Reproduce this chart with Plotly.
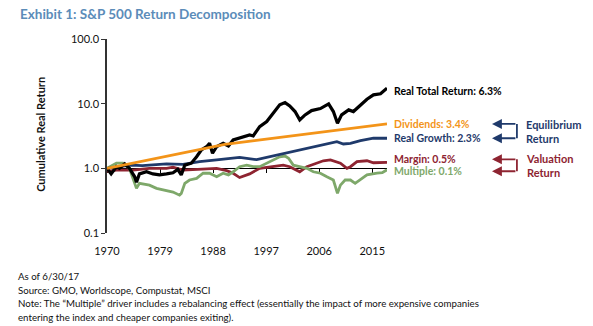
import math
import plotly.graph_objects as go

# ---- series (cumulative real return, 1970 = 1.0) ----
years_total = [1970.0, 1970.7, 1971.6, 1972.1, 1973.0, 1973.8, 1974.7, 1975.0, 1975.5, 1976.7,
               1977.8, 1978.9, 1980.1, 1981.2, 1982.0, 1982.6, 1983.2, 1984.3, 1985.2, 1986.0,
               1986.9, 1987.4, 1987.9, 1988.6, 1989.7, 1990.6, 1991.4, 1993.1, 1994.2, 1994.8,
               1995.9, 1997.1, 1998.2, 1999.3, 2000.2, 2001.0, 2001.9, 2002.7, 2003.6, 2004.7,
               2006.2, 2007.6, 2008.4, 2009.1, 2009.8, 2011.0, 2011.8, 2013.0, 2014.1, 2015.2,
               2016.4, 2017.5]
total_return = [1.00, 0.82, 1.06, 1.00, 1.17, 1.00, 0.74, 0.61, 0.82, 0.885,
                0.82, 0.79, 0.82, 0.855, 0.965, 0.79, 1.12, 1.20, 1.51, 1.92,
                2.16, 2.44, 1.71, 2.16, 2.44, 2.22, 2.75, 3.09, 3.28, 3.17,
                4.42, 5.28, 7.13, 9.58, 10.4, 9.25, 7.55, 5.61, 6.70, 7.82,
                8.40, 9.93, 7.55, 4.99, 6.70, 8.01, 7.55, 9.58, 11.7, 13.7,
                14.2, 17.4]

years_div = [1970.0, 1972.5, 1975.0, 1980.0, 1985.0, 1990.0, 1995.0, 2000.0, 2005.0, 2010.0, 2015.0, 2017.5]
dividends = [1.00, 1.11, 1.24, 1.54, 1.92, 2.35, 2.69, 3.06, 3.49, 3.99, 4.55, 4.86]

years_growth = [1970.0, 1972.0, 1974.0, 1976.0, 1978.0, 1980.1, 1982.9, 1985.7, 1988.6, 1991.4,
                1992.5, 1995.4, 1998.2, 2001.0, 2003.9, 2006.7, 2009.0, 2010.1, 2011.3, 2013.0,
                2015.2, 2017.5]
real_growth = [1.00, 1.06, 1.12, 1.10, 1.14, 1.17, 1.15, 1.27, 1.35, 1.45,
               1.48, 1.36, 1.55, 1.81, 2.04, 2.30, 2.58, 2.38, 2.44, 2.68,
               2.92, 2.92]

years_margin = [1970.0, 1971.6, 1974.4, 1977.2, 1980.1, 1981.2, 1982.9, 1985.7, 1988.6, 1990.3,
                1991.4, 1992.5, 1993.3, 1994.2, 1995.9, 1998.2, 1999.9, 2001.0, 2002.2, 2002.7,
                2003.9, 2005.6, 2006.7, 2007.9, 2009.6, 2010.7, 2011.3, 2012.4, 2014.1, 2015.2,
                2017.5]
margin = [0.90, 0.94, 0.94, 1.00, 1.00, 1.04, 0.94, 0.965, 1.00, 0.92,
          0.84, 0.72, 0.76, 0.82, 1.00, 1.06, 1.12, 1.06, 0.94, 0.885,
          1.06, 1.20, 1.31, 1.35, 1.20, 1.00, 1.06, 1.27, 1.31, 1.22,
          1.24]

years_multiple = [1970.0, 1971.6, 1972.7, 1973.8, 1974.7, 1975.0, 1975.5, 1977.2, 1978.4, 1980.1,
                  1981.2, 1982.3, 1982.6, 1983.2, 1984.0, 1985.2, 1986.3, 1987.4, 1988.6, 1989.7,
                  1990.6, 1991.4, 1992.5, 1993.7, 1994.8, 1995.9, 1997.1, 1998.2, 1999.3, 2000.2,
                  2000.8, 2001.6, 2002.7, 2003.9, 2005.0, 2006.2, 2007.3, 2008.4, 2009.1, 2009.6,
                  2010.4, 2011.3, 2012.1, 2013.3, 2014.1, 2015.8, 2016.7, 2017.5]
multiple = [1.00, 1.20, 1.20, 1.00, 0.585, 0.49, 0.585, 0.55, 0.49, 0.46,
            0.43, 0.385, 0.41, 0.585, 0.66, 0.70, 0.84, 0.84, 0.74, 0.84,
            0.79, 0.885, 1.06, 1.12, 1.06, 1.06, 1.20, 1.35, 1.51, 1.55,
            1.43, 1.12, 1.06, 1.00, 0.885, 0.84, 0.74, 0.66, 0.41, 0.55,
            0.66, 0.66, 0.585, 0.70, 0.79, 0.84, 0.855, 0.95]

year_ticks = [1970, 1979, 1988, 1997, 2006, 2015]
value_ticks = [0.1, 1, 10, 100]
value_tick_text = ["0.1", "1.0", "10.0", "100.0"]

footnote_lines = [
    "As of 6/30/17",
    "Source: GMO, Worldscope, Compustat, MSCI",
    "Note: The \u201cMultiple\u201d driver includes a rebalancing effect (essentially the impact of more expensive companies",
    "entering the index and cheaper companies exiting).",
]

BLACK = "#000000"
ORANGE = "#F39419"
NAVY = "#1F3A6B"
RED = "#8E2431"
GREEN = "#7EA86A"
TITLE_BLUE = "#5B8CB9"
FONT = "Lato, 'Open Sans', sans-serif"

fig = go.Figure()

# the dividends line sits on the overlaid axis so that the 1.0 crossing axis is drawn
series = [
    (years_margin, margin, RED, 2.8, "x"),
    (years_multiple, multiple, GREEN, 2.8, "x"),
    (years_growth, real_growth, NAVY, 2.8, "x"),
    (years_div, dividends, ORANGE, 2.8, "x2"),
    (years_total, total_return, BLACK, 3.2, "x"),
]
for xs, ys, color, width, xa in series:
    fig.add_trace(go.Scatter(
        x=xs, y=ys, mode="lines", xaxis=xa, yaxis="y",
        line=dict(color=color, width=width),
        hoverinfo="skip", showlegend=False,
    ))

y_lo, y_hi = -1, 2
x_range = [1970, 2017.5]
plot_w = 593 - 107 - 206
plot_h = 326 - 39 - 93


def frac(v):
    """Position of a value on the log y axis as a fraction of the plot height."""
    return (math.log10(v) - y_lo) / (y_hi - y_lo)


fig.update_layout(
    width=593, height=326,
    margin=dict(l=107, r=206, t=39, b=93),
    paper_bgcolor="white", plot_bgcolor="white",
    font=dict(family=FONT, size=11, color="#111111"),
    showlegend=False,
    xaxis=dict(
        range=x_range, tickvals=year_ticks,
        showline=False, showgrid=False, zeroline=False,
        ticks="outside", ticklen=8, tickcolor="rgba(0,0,0,0)",
        tickfont=dict(size=11, color="#111111"),
    ),
    # axis line crossing at 1.0
    xaxis2=dict(
        overlaying="x", anchor="free", position=frac(1.0),
        range=x_range, tickvals=year_ticks, showticklabels=False,
        showline=True, linecolor="#000000", linewidth=1,
        ticks="outside", ticklen=4, tickcolor="#000000",
        showgrid=False, zeroline=False, layer="below traces",
    ),
    yaxis=dict(
        type="log", range=[y_lo, y_hi],
        tickvals=value_ticks, ticktext=value_tick_text,
        showline=True, linecolor="#333333", linewidth=1.5,
        ticks="outside", ticklen=4, tickcolor="#333333",
        showgrid=False, zeroline=False,
        tickfont=dict(size=11, color="#111111"),
    ),
)

annotations = []

# title
annotations.append(dict(
    text="<b>Exhibit 1: S&P 500 Return Decomposition</b>",
    xref="paper", yref="paper", x=-0.318, y=1.13, xanchor="left", yanchor="middle",
    showarrow=False, font=dict(size=13.5, color=TITLE_BLUE, family=FONT),
))

# y axis title
annotations.append(dict(
    text="<b>Cumulative Real Return</b>",
    xref="paper", yref="paper", x=-0.24, y=0.51, xanchor="center", yanchor="middle",
    textangle=-90, showarrow=False, font=dict(size=11, color="#111111", family=FONT),
))

# end labels (pixel nudges keep the two close labels apart)
end_labels = [
    ("Real Total Return: 6.3%", total_return[-1], BLACK, -3),
    ("Dividends: 3.4%", dividends[-1], ORANGE, 0),
    ("Real Growth: 2.3%", real_growth[-1], NAVY, 0),
    ("Margin: 0.5%", margin[-1], RED, 3),
    ("Multiple: 0.1%", multiple[-1], GREEN, -1.5),
]
label_x = 1.018
for text, v, color, dy in end_labels:
    annotations.append(dict(
        text=f"<b>{text}</b>", xref="paper", yref="paper",
        x=label_x, y=frac(v), yshift=dy, xanchor="left", yanchor="middle",
        showarrow=False, font=dict(size=10.5, color=color, family=FONT),
    ))

# bracket arrows grouping the drivers
arrow_tip_x = 1.375
bracket_x = 1.464
arrow_len_px = (bracket_x - arrow_tip_x) * plot_w
shapes = []
groups = [
    (dividends[-1], 0, real_growth[-1], 0, NAVY, "Equilibrium<br>Return"),
    (margin[-1], 3, multiple[-1], -1.5, RED, "Valuation<br>Return"),
]
for v1, d1, v2, d2, color, text in groups:
    y1 = frac(v1) + d1 / plot_h
    y2 = frac(v2) + d2 / plot_h
    for yy in (y1, y2):
        annotations.append(dict(
            text="", xref="paper", yref="paper", x=arrow_tip_x, y=yy,
            ax=arrow_len_px, ay=0, axref="pixel", ayref="pixel",
            showarrow=True, arrowhead=2, arrowsize=1.1, arrowwidth=1.8, arrowcolor=color,
        ))
    shapes.append(dict(
        type="line", xref="paper", yref="paper",
        x0=bracket_x, x1=bracket_x, y0=y1, y1=y2,
        line=dict(color=color, width=1.8),
    ))
    annotations.append(dict(
        text=f"<b>{text}</b>", xref="paper", yref="paper",
        x=1.49, y=(y1 + y2) / 2, xanchor="left", yanchor="middle", align="left",
        showarrow=False, font=dict(size=11, color=color, family=FONT),
    ))

# footnotes, one row each
first_row_px = 276
row_step_px = 13.7
for i, line in enumerate(footnote_lines):
    row_px = first_row_px + i * row_step_px
    annotations.append(dict(
        text=line, xref="paper", yref="paper",
        x=-0.325, y=(326 - 93 - row_px) / plot_h, xanchor="left", yanchor="middle",
        align="left", showarrow=False,
        font=dict(size=9.7, color="#111111", family=FONT),
    ))

fig.update_layout(annotations=annotations, shapes=shapes)

fig.write_html("out.html")
